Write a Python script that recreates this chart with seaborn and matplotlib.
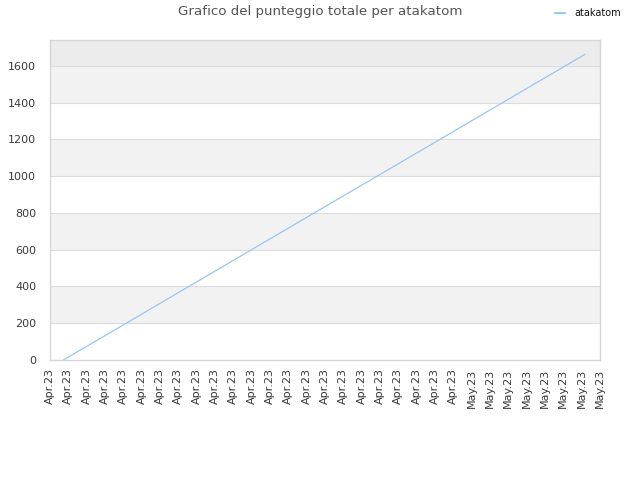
import matplotlib
matplotlib.use("Agg")
import matplotlib.pyplot as plt
import matplotlib.dates as mdates
import seaborn as sns
import pandas as pd

# Data
times = ["2023-04-08 17:24", "2023-04-12 00:00", "2023-04-16 00:00", "2023-04-20 00:00",
         "2023-04-24 00:00", "2023-04-28 00:00", "2023-05-02 00:00", "2023-05-06 00:00",
         "2023-05-07 04:20"]
scores = [0, 191, 425, 659, 893, 1126, 1360, 1594, 1663]
series_name = "atakatom"
tick_days = pd.date_range("2023-04-08", "2023-05-08", freq="D")
y_ticks = [0, 200, 400, 600, 800, 1000, 1200, 1400, 1600]

df = pd.DataFrame({"time": pd.to_datetime(times), "score": scores, "player": series_name})

sns.set_theme(style="white")
plt.rcParams["font.family"] = ["DejaVu Sans"]

fig = plt.figure(figsize=(6.4, 4.8), dpi=100)
ax = fig.add_axes([50/640, 120/480, 550/640, 320/480])

line_color = "#99c5f5"
sns.lineplot(data=df, x="time", y="score", hue="player", palette=[line_color],
             linewidth=0.9, ax=ax, legend=False)

ymax = 1741
# banded background
for i, lo in enumerate(y_ticks[:-1]):
    if i % 2 == 1:
        ax.axhspan(lo, lo + 200, color="#f2f2f2", zorder=0, lw=0)
ax.axhspan(1600, ymax, color="#ececec", zorder=0, lw=0)
for yv in y_ticks[1:]:
    ax.axhline(yv, color="#dcdcdc", lw=0.8, zorder=0.5)

ax.set_ylim(0, ymax)
ax.set_xlim(tick_days[0], tick_days[-1])
ax.set_yticks(y_ticks)
ax.set_xticks(tick_days)
ax.xaxis.set_major_formatter(mdates.DateFormatter("%b.%y"))
ax.tick_params(axis="x", labelrotation=90, labelsize=8, colors="#3a3a3a", length=0, pad=6)
ax.tick_params(axis="y", labelsize=8, colors="#3a3a3a", length=0, pad=10)
ax.set_xlabel("")
ax.set_ylabel("")
for s in ax.spines.values():
    s.set_color("#d6d6d6")
    s.set_linewidth(1)

fig.text(0.5, 1 - 12/480, "Grafico del punteggio totale per atakatom",
         ha="center", va="center", fontsize=9.6, color="#555555")

from matplotlib.lines import Line2D
h = [Line2D([0], [0], color=line_color, lw=1.5)]
leg = fig.legend(h, [series_name], loc="center", bbox_to_anchor=(588/640, 1 - 13/480),
                 frameon=False, fontsize=7, handlelength=1.0, handletextpad=0.9)
for t in leg.get_texts():
    t.set_color("#111111")

fig.savefig("out.png", dpi=100)
